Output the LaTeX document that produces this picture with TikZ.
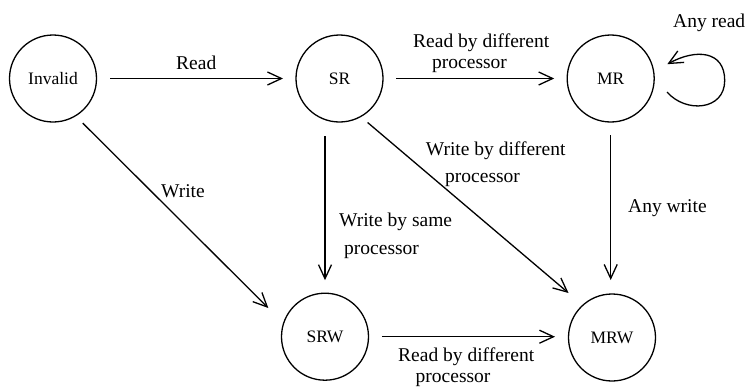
\documentclass[tikz,border=0pt]{standalone}
\usepackage{fontspec}
\setmainfont{Liberation Serif}
\newfontfamily\tnr{Liberation Serif}
\usetikzlibrary{arrows.meta}
\begin{document}
\begin{tikzpicture}[x=1pt,y=-1pt,
  st/.style={circle, draw, line width=1.3pt, minimum size=87pt, inner sep=0pt, outer sep=0pt,
             font=\tnr\fontsize{17.5}{20}\selectfont},
  arr/.style={-{Straight Barb[length=14pt,width=13pt]}, line width=1.3pt},
  lbl/.style={font=\tnr\fontsize{19.5}{20.6}\selectfont, inner sep=0pt, anchor=base west, align=left}]
\useasboundingbox (0,0) rectangle (750,386);

\node[st] (inv) at (53,78.5) {Invalid};
\node[st] (sr)  at (339.5,78.5) {SR};
\node[st] (mr)  at (610.7,78.5) {MR};
\node[st] (srw) at (325,336.7) {SRW};
\node[st] (mrw) at (612,337.5) {MRW};

\draw[arr, shorten <=13.5pt, shorten >=13pt] (inv) -- (sr);
\draw[arr, shorten <=13pt, shorten >=13pt] (sr) -- (mr);
\draw[arr, shorten <=14pt, shorten >=13pt] ([xshift=-14.5pt]sr.south) -- (srw.north);
\draw[arr, shorten <=10.4pt, shorten >=21.6pt] (inv.-59.1) -- (srw.162.4);
\draw[arr, shorten <=9.2pt, shorten >=18.8pt] (sr.-61.5) -- (mrw.132.5);
\draw[arr, shorten <=13.3pt, shorten >=14pt] (mr.south) -- (mr.south |- mrw.north);
\draw[arr, shorten <=13.4pt, shorten >=13.5pt] (srw.east) -- (srw.east -| mrw.west);
\coordinate (loopstart) at (667,92);
\coordinate (loopend) at (667.3,64.2);
\draw[arr] (loopstart) .. controls (685.7,113.5) and (724.7,110.5) .. (724.7,80.5)
      .. controls (724.7,50.5) and (695.7,48.5) .. (loopend);

\node[lbl] (lread) at (176,69) {Read};
\node[lbl] (lsrmr) at (413,68.3) {Read by different\\\hspace*{19pt}processor};
\node[lbl] (lany) at (673,27) {Any read};
\node[lbl] (lwrite) at (161,197) {Write};
\node[lbl] (lsame) at (339,254.3) {Write by same\\[7pt]\hspace*{5pt}processor};
\node[lbl] (ldiff) at (425.7,182.6) {Write by different\\[7pt]\hspace*{19.3pt}processor};
\node[lbl] (lanyw) at (628,212) {Any write};
\node[lbl] (lbot) at (398,382) {Read by different\\\hspace*{17.5pt}processor};
\end{tikzpicture}
\end{document}
